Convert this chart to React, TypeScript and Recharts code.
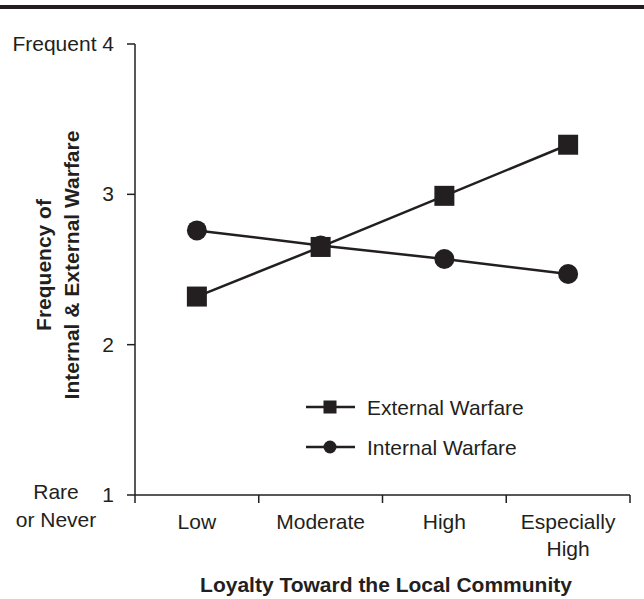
import { LineChart, Line, XAxis, YAxis, Legend } from "recharts"

// values
const categories = ["Low", "Moderate", "High", "Especially High"]
const externalWarfare = [2.32, 2.65, 2.99, 3.33]
const internalWarfare = [2.76, 2.66, 2.57, 2.47]
const yTicks = [1, 2, 3, 4]
const legendOrder = ["External Warfare", "Internal Warfare"]

const data = categories.map((name, i) => ({
  name,
  external: externalWarfare[i],
  internal: internalWarfare[i],
}))

const INK = "#231f20"
const FONT = "'Liberation Sans', Arial, Helvetica, sans-serif"
const FS = 21

const W = 644
const H = 599
const MARGIN = { top: 44, right: 14, bottom: 0, left: 0 }
const Y_AXIS_W = 135
const X_AXIS_H = 104
const PLOT_W = W - MARGIN.left - MARGIN.right - Y_AXIS_W
const BAND = PLOT_W / categories.length
const AXIS_Y = H - MARGIN.bottom - X_AXIS_H
const LABEL_X = 114

function XTick(props: any) {
  const { x, payload, index } = props
  const label: string = payload.value
  const lines = label === "Especially High" ? ["Especially", "High"] : [label]
  const isLast = index === categories.length - 1
  return (
    <g>
      <line x1={x - BAND / 2} x2={x - BAND / 2} y1={AXIS_Y} y2={AXIS_Y + 8} stroke={INK} strokeWidth={1.5} />
      {isLast && (
        <line x1={x + BAND / 2} x2={x + BAND / 2} y1={AXIS_Y} y2={AXIS_Y + 8} stroke={INK} strokeWidth={1.5} />
      )}
      <text x={x} y={AXIS_Y + 34} textAnchor="middle" fontSize={FS} fill={INK} fontFamily={FONT}>
        {lines.map((l, i) => (
          <tspan key={i} x={x} dy={i === 0 ? 0 : 27}>{l}</tspan>
        ))}
      </text>
    </g>
  )
}

function YTick(props: any) {
  const { y, payload } = props
  const v = payload.value
  const common = { fontSize: FS, fill: INK, fontFamily: FONT }
  if (v === 4) {
    return (
      <text x={LABEL_X} y={y + 7} textAnchor="end" {...common}>Frequent 4</text>
    )
  }
  if (v === 1) {
    return (
      <g>
        <text x={LABEL_X} y={y + 7} textAnchor="end" {...common}>1</text>
        <text x={56} y={y + 4} textAnchor="middle" {...common}>Rare</text>
        <text x={56} y={y + 32} textAnchor="middle" {...common}>or Never</text>
      </g>
    )
  }
  return (
    <text x={LABEL_X} y={y + 7} textAnchor="end" {...common}>{v}</text>
  )
}

function YTitle() {
  const cy = 265
  return (
    <g fontFamily={FONT} fontSize={FS} fontWeight="bold" fill={INK}>
      <text x={51} y={cy} textAnchor="middle" transform={`rotate(-90 51 ${cy})`}>Frequency of</text>
      <text x={79} y={cy} textAnchor="middle" transform={`rotate(-90 79 ${cy})`}>Internal &amp; External Warfare</text>
    </g>
  )
}

function XTitle() {
  return (
    <text x={386} y={592} textAnchor="middle" fontFamily={FONT} fontSize={FS} fontWeight="bold" fill={INK}>
      Loyalty Toward the Local Community
    </text>
  )
}

const SquareDot = (props: any) => {
  const { cx, cy, index } = props
  return <rect key={`sq-${index}`} x={cx - 10} y={cy - 10} width={20} height={20} fill={INK} />
}

const CircleDot = (props: any) => {
  const { cx, cy, index } = props
  return <circle key={`ci-${index}`} cx={cx} cy={cy} r={10} fill={INK} />
}

function LegendBox() {
  return (
    <svg width={240} height={80} style={{ display: "block" }}>
      {legendOrder.map((name, i) => {
        const cy = 17 + i * 40
        return (
          <g key={name}>
            <line x1={6} x2={55} y1={cy} y2={cy} stroke={INK} strokeWidth={2.5} />
            {i === 0 ? (
              <rect x={30 - 6.5} y={cy - 6.5} width={13} height={13} fill={INK} />
            ) : (
              <circle cx={30} cy={cy} r={6.5} fill={INK} />
            )}
            <text x={67} y={cy + 7.5} fontSize={FS} fill={INK} fontFamily={FONT}>{name}</text>
          </g>
        )
      })}
    </svg>
  )
}

export default function App() {
  return (
    <div style={{ position: "absolute", left: 0, top: 0, width: W, height: H, background: "#fff" }}>
      <div style={{ position: "absolute", left: 0, top: 5, width: W, height: 4, background: INK }} />
      <LineChart width={W} height={H} data={data} margin={MARGIN}>
        <XAxis
          dataKey="name"
          height={X_AXIS_H}
          padding={{ left: BAND / 2, right: BAND / 2 }}
          axisLine={{ stroke: INK, strokeWidth: 1.5 }}
          tickLine={false}
          tick={<XTick />}
          interval={0}
          label={<XTitle />}
        />
        <YAxis
          width={Y_AXIS_W}
          domain={[1, 4]}
          ticks={yTicks}
          type="number"
          tickSize={8}
          axisLine={{ stroke: INK, strokeWidth: 1.5 }}
          tickLine={{ stroke: INK, strokeWidth: 1.5 }}
          tick={<YTick />}
          label={<YTitle />}
        />
        <Legend
          layout="vertical"
          align="center"
          verticalAlign="middle"
          width={240}
          wrapperStyle={{ left: 300, top: 390 }}
          content={<LegendBox />}
        />
        <Line
          name="Internal Warfare"
          dataKey="internal"
          stroke={INK}
          strokeWidth={2.5}
          dot={CircleDot}
          activeDot={false}
          isAnimationActive={false}
        />
        <Line
          name="External Warfare"
          dataKey="external"
          stroke={INK}
          strokeWidth={2.5}
          dot={SquareDot}
          activeDot={false}
          isAnimationActive={false}
        />
      </LineChart>
    </div>
  )
}
